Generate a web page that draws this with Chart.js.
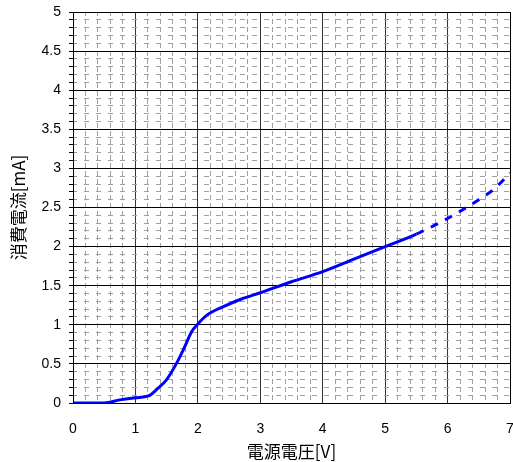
<!DOCTYPE html>
<html>
<head>
<meta charset="utf-8">
<script src="https://cdn.jsdelivr.net/npm/chart.js@4"></script>
<style>
  body { margin: 0; background: #fff; }
  #wrap { width: 513px; height: 462px; }
</style>
</head>
<body>
<div id="wrap"><canvas id="myChart" width="513" height="462"></canvas></div>
<script>
// 電源電圧[V] vs 消費電流[mA]
const voltage = [0, 0.5, 0.75, 1.0, 1.21, 1.35, 1.5, 1.66, 1.79, 1.9, 2.0, 2.14, 2.4, 2.7, 3.0, 3.5, 4.0, 4.5, 5.0, 5.5, 6.0, 6.5, 6.75, 7.0];
const current = [0, 0, 0.04, 0.068, 0.09, 0.18, 0.3, 0.51, 0.72, 0.91, 1.01, 1.12, 1.23, 1.33, 1.41, 1.55, 1.68, 1.84, 2.0, 2.16, 2.36, 2.6, 2.74, 2.94];
const dashFrom = 5.5; // measured range ends here, rest is dashed

const xTitle = '電源電圧[V]';
const yTitle = '消費電流[mA]';

const points = voltage.map((v, i) => ({ x: v, y: current[i] }));

const tickFont = { family: 'Liberation Sans, Arial, sans-serif', size: 14 };
const titleFont = { family: 'Noto Sans CJK JP, sans-serif', size: 17 };

// major every 1 (x) / 0.5 (y), minor in between
const isMajorX = v => Math.abs(v - Math.round(v)) < 1e-6;
const isMajorY = v => Math.abs(v * 2 - Math.round(v * 2)) < 1e-6;

const ctx = document.getElementById('myChart').getContext('2d');
new Chart(ctx, {
    type: 'line',
    data: {
        datasets: [{
            data: points,
            borderColor: '#0000ff',
            borderWidth: 3,
            pointRadius: 0,
            cubicInterpolationMode: 'monotone',
            segment: {
                borderDash: c => c.p0.parsed.x >= dashFrom ? [8, 8] : undefined
            }
        }]
    },
    options: {
        responsive: false,
        animation: false,
        layout: { padding: { top: 12, right: 3, left: 0, bottom: 0 } },
        plugins: { legend: { display: false }, tooltip: { enabled: false } },
        scales: {
            x: {
                type: 'linear',
                min: 0, max: 7,
                afterBuildTicks: s => {
                    s.ticks = [];
                    for (let i = 0; i <= 35; i++) s.ticks.push({ value: i / 5 });
                },
                afterFit: s => { s.height = 59; s.paddingLeft = 0; s.paddingRight = 0; },
                ticks: {
                    autoSkip: false,
                    maxRotation: 0,
                    font: tickFont,
                    color: '#000',
                    padding: 18,
                    callback: v => isMajorX(v) ? String(Math.round(v)) : ''
                },
                grid: {
                    drawTicks: false,
                    color: c => isMajorX(c.tick.value) ? '#333' : '#a0a0a0',
                    lineWidth: 1
                },
                border: {
                    color: '#000',
                    width: 1,
                    dash: c => (c.tick && !isMajorX(c.tick.value)) ? [5, 3] : [],
                    dashOffset: 1
                },
                title: { display: true, text: xTitle, font: titleFont, color: '#000', padding: { top: 0, bottom: 0 } }
            },
            y: {
                type: 'linear',
                min: 0, max: 5,
                afterBuildTicks: s => {
                    s.ticks = [];
                    for (let i = 0; i <= 50; i++) s.ticks.push({ value: i / 10 });
                },
                afterFit: s => { s.width = 73; s.paddingTop = 0; s.paddingBottom = 0; },
                ticks: {
                    autoSkip: false,
                    font: tickFont,
                    color: '#000',
                    padding: 8,
                    callback: v => isMajorY(v) ? String(Math.round(v * 10) / 10) : ''
                },
                grid: {
                    drawTicks: true,
                    tickLength: 4,
                    tickColor: '#000',
                    color: c => isMajorY(c.tick.value) ? '#000' : '#a0a0a0',
                    lineWidth: 1
                },
                border: {
                    color: '#000',
                    width: 1,
                    dash: c => (c.tick && !isMajorY(c.tick.value)) ? [5, 7] : [],
                    dashOffset: 2
                },
                title: { display: true, text: yTitle, font: titleFont, color: '#000', padding: { top: 8, bottom: 4 } }
            }
        }
    },
    plugins: [{
        id: 'frame',
        afterDraw(chart) {
            const a = chart.chartArea, g = chart.ctx;
            g.save();
            g.strokeStyle = '#000';
            g.lineWidth = 1;
            g.strokeRect(Math.round(a.left) + 0.5, Math.round(a.top) + 0.5, Math.round(a.right - a.left), Math.round(a.bottom - a.top));
            g.restore();
        }
    }]
});
</script>
</body>
</html>
